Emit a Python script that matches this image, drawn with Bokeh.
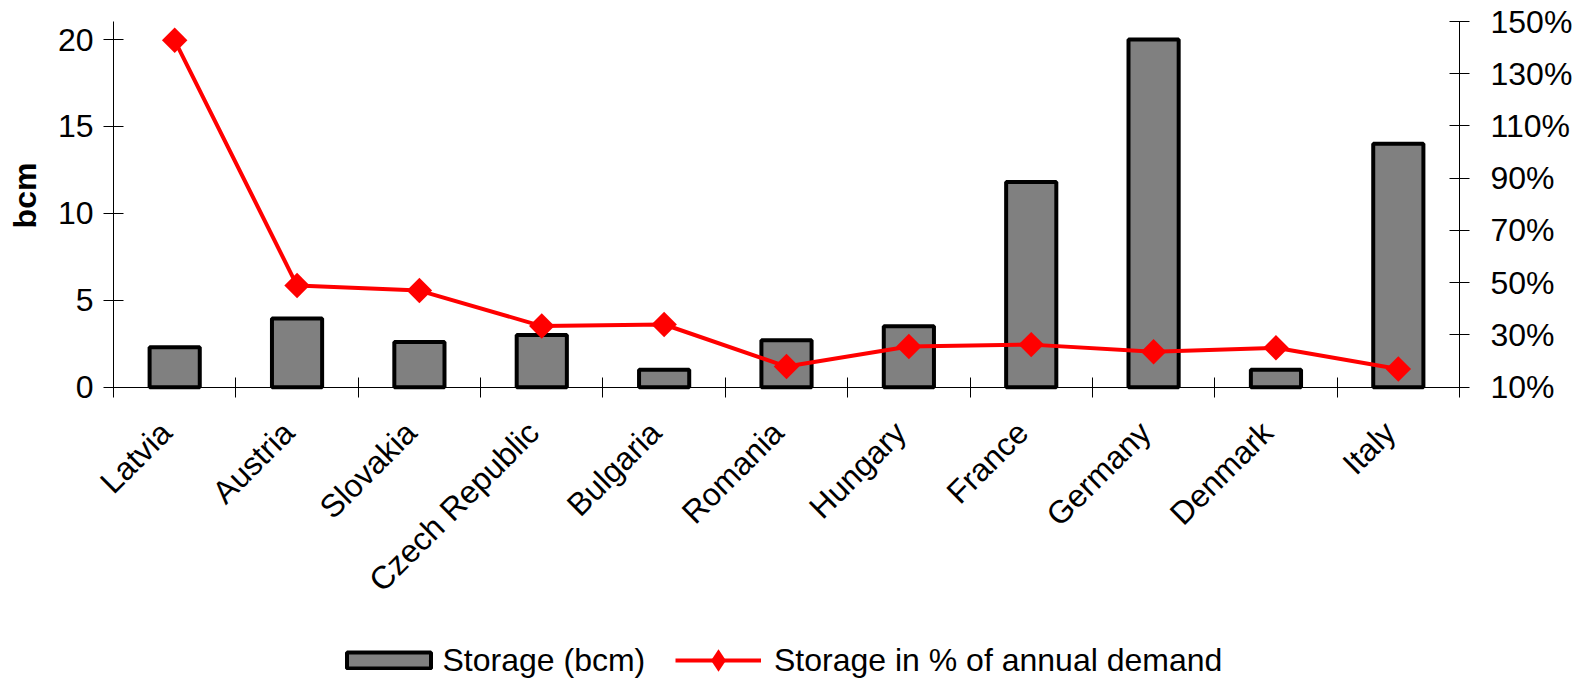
import numpy as np
from bokeh.plotting import figure
from bokeh.models import (Range1d, LinearAxis, FixedTicker, CustomJSTickFormatter,
                          PrintfTickFormatter, Legend, LegendItem, ColumnDataSource, Label)
from bokeh.embed import file_html
from bokeh.resources import INLINE

# ---- data ----
countries = ["Latvia", "Austria", "Slovakia", "Czech Republic", "Bulgaria", "Romania",
             "Hungary", "France", "Germany", "Denmark", "Italy"]
storage_bcm = [2.3, 3.95, 2.6, 3.0, 1.0, 2.7, 3.5, 11.8, 20.0, 1.0, 14.0]
storage_pct = [142.8, 48.9, 47.0, 33.4, 34.0, 17.9, 25.6, 26.3, 23.6, 25.1, 17.0]
bcm_ticks = [0, 5, 10, 15, 20]
pct_ticks = [10, 30, 50, 70, 90, 110, 130, 150]
bar_label = "Storage (bcm)"
line_label = "Storage in % of annual demand"
y_title = "bcm"

FONT = "Liberation Sans"
FS = "32px"

# ---- layout (pixels) ----
W, H = 1586, 681
PLOT_LEFT, PLOT_RIGHT = 113, 1459   # pixel columns of the two value axes
FRAME_TOP = 21                      # top of the value axes
AXIS_Y = 386.7                      # pixel row of the category axis
BCM_MAX = 21.04
PCT_MIN, PCT_MAX = 10, 150

n = len(countries)
k_x = (PLOT_RIGHT - PLOT_LEFT) / n
k_bcm = (AXIS_Y - FRAME_TOP) / BCM_MAX
k_pct = (AXIS_Y - FRAME_TOP) / (PCT_MAX - PCT_MIN)
below = H - AXIS_Y

xs = [i + 0.5 for i in range(n)]
src = ColumnDataSource(dict(x=xs, bcm=storage_bcm, pct=storage_pct))

p = figure(width=W, height=H, output_backend="svg", toolbar_location=None,
           x_range=Range1d(-PLOT_LEFT / k_x, n + (W - PLOT_RIGHT) / k_x),
           y_range=Range1d(-below / k_bcm, BCM_MAX + FRAME_TOP / k_bcm),
           min_border=0)
p.extra_y_ranges = {"pct": Range1d(PCT_MIN - below / k_pct, PCT_MAX + FRAME_TOP / k_pct)}
p.outline_line_color = None
p.grid.visible = False
p.background_fill_color = "white"
p.border_fill_color = "white"

bars = p.vbar(x="x", top="bcm", width=0.41, source=src, fill_color="#808080",
              line_color="black", line_width=4)
line = p.line(x="x", y="pct", source=src, y_range_name="pct",
              line_color="#ff0000", line_width=4)
marks = p.scatter(x="x", y="pct", source=src, y_range_name="pct", marker="square",
                  size=18, angle=np.pi / 4, fill_color="#ff0000", line_color=None)
# diamond shown only in the legend (drawn with zero size on the chart)
legend_mark = p.scatter(x="x", y="pct", source=src, y_range_name="pct", marker="diamond",
                        size=0, fill_color="#ff0000", line_color=None)

# x axis at bcm = 0: boundary ticks as minor ticks, labels near category centres
label_shift = 0.07
xa = p.xaxis[0]
xa.fixed_location = 0
xa.bounds = (0, n)
xa.ticker = FixedTicker(ticks=[v - label_shift for v in xs], minor_ticks=list(range(n + 1)))
xa.formatter = CustomJSTickFormatter(args=dict(names=countries),
                                     code="return names[Math.floor(tick)] || '';")
xa.major_label_orientation = np.pi / 4
xa.major_tick_in = 0
xa.major_tick_out = 0
xa.minor_tick_in = 10
xa.minor_tick_out = 10
xa.major_label_standoff = 30
xa.major_label_text_font = FONT
xa.major_label_text_font_size = FS
xa.major_label_text_color = "black"
xa.axis_line_color = "black"
xa.minor_tick_line_color = "black"

# left axis
ya = p.yaxis[0]
ya.fixed_location = 0
ya.bounds = (0, BCM_MAX)
ya.ticker = FixedTicker(ticks=bcm_ticks)
ya.major_tick_in = 10
ya.major_tick_out = 10
ya.minor_tick_line_color = None
ya.major_label_standoff = 10
ya.major_label_text_font = FONT
ya.major_label_text_font_size = FS
ya.major_label_text_color = "black"
ya.axis_line_color = "black"

# right axis
ra = LinearAxis(y_range_name="pct", ticker=FixedTicker(ticks=pct_ticks),
                formatter=PrintfTickFormatter(format="%d%%"), bounds=(PCT_MIN, PCT_MAX),
                fixed_location=n)
ra.major_tick_in = 10
ra.major_tick_out = 10
ra.minor_tick_line_color = None
ra.major_label_standoff = 21
ra.major_label_text_font = FONT
ra.major_label_text_font_size = FS
ra.major_label_text_color = "black"
ra.axis_line_color = "black"
p.add_layout(ra, "right")

# y-axis title
p.add_layout(Label(x=(24.5 - PLOT_LEFT) / k_x, y=(AXIS_Y - 195) / k_bcm, text=y_title,
                   angle=np.pi / 2, text_align="center", text_baseline="middle",
                   text_font=FONT, text_font_size=FS, text_font_style="bold",
                   text_color="black"))

common = dict(orientation="horizontal", padding=0, margin=0, border_line_color=None,
              background_fill_alpha=0, label_text_font=FONT, label_text_font_size=FS,
              label_text_color="black")
legA = Legend(items=[LegendItem(label=bar_label, renderers=[bars])],
              location=(335.5, 2.5), glyph_width=105, glyph_height=20,
              label_standoff=2, **common)
legB = Legend(items=[LegendItem(label=line_label, renderers=[line, legend_mark])],
              location=(675, -7), glyph_width=86, glyph_height=56,
              label_standoff=13, **common)
p.add_layout(legA, "center")
p.add_layout(legB, "center")

open("out.html", "w").write(file_html(p, INLINE))
